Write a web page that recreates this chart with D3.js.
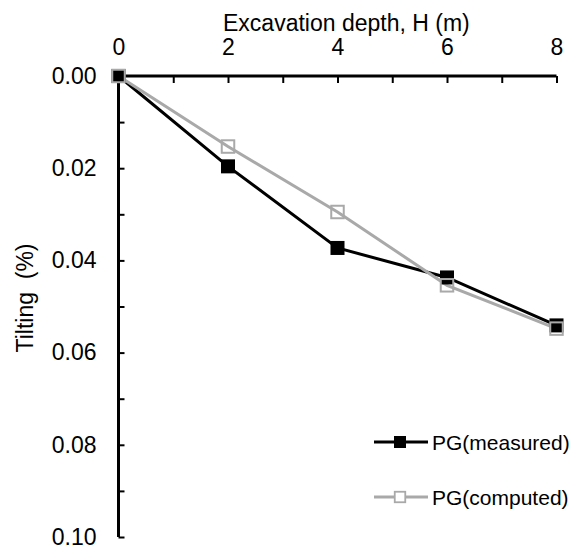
<!DOCTYPE html>
<html>
<head>
<meta charset="utf-8">
<script src="https://cdn.jsdelivr.net/npm/d3@7"></script>
<style>
  body { margin: 0; background: #fff; }
  text { font-family: "Liberation Sans", Arial, sans-serif; fill: #000; }
</style>
</head>
<body>
<div id="chart"></div>
<script>
// depth values (m) and tilting (%)
const depth = [0, 2, 4, 6, 8]
const measured = [0, 0.0196, 0.0373, 0.0437, 0.0541]
const computed = [0, 0.0153, 0.0295, 0.0454, 0.0548]
const xTicks = [0, 2, 4, 6, 8]
const yTicks = [0, 0.02, 0.04, 0.06, 0.08, 0.10]
const seriesNames = ['PG(measured)', 'PG(computed)']

const W = 581
const H = 548
const M = { left: 118.5, right: 24.5, top: 76, bottom: 11 }
const GREY = '#a9a9a9'

const svg = d3.select('#chart').append('svg')
  .attr('width', W)
  .attr('height', H)

const x = d3.scaleLinear().domain([0, 8]).range([M.left, W - M.right])
const y = d3.scaleLinear().domain([0, 0.10]).range([M.top, H - M.bottom])

// --- AXES ---
// x axis sits on top, ticks point into the plot
const xAxis = svg.append('g')
  .attr('transform', `translate(0,${M.top})`)
  .call(d3.axisTop(x).tickValues(d3.range(0, 9, 1)).tickSize(-7).tickFormat(d => xTicks.includes(d) ? d : ''))
xAxis.select('.domain').attr('stroke-width', 3).attr('d', `M${x(0)},0H${x(8)}`)
xAxis.selectAll('.tick line').attr('stroke-width', 2)
xAxis.selectAll('.tick text').attr('y', -21).attr('dy', 0).style('font-size', '23px')

// y axis grows downward
const yAxis = svg.append('g')
  .attr('transform', `translate(${M.left},0)`)
  .call(d3.axisLeft(y).tickValues(d3.range(0, 0.1001, 0.01)).tickSize(-6)
    .tickFormat(d => yTicks.some(t => Math.abs(t - d) < 1e-9) ? d3.format('.2f')(d) : ''))
yAxis.select('.domain').attr('stroke-width', 3).attr('d', `M0,${y(0)}V${y(0.10)}`)
yAxis.selectAll('.tick line').attr('stroke-width', 2)
yAxis.selectAll('.tick text').attr('x', -22).style('font-size', '23px')

svg.append('text')
  .attr('x', 223).attr('y', 31)
  .style('font-size', '23px')
  .text('Excavation depth, H (m)')

svg.append('text')
  .attr('transform', 'translate(33,298) rotate(-90)')
  .attr('text-anchor', 'middle')
  .style('font-size', '23px')
  .style('white-space', 'pre')
  .text('Tilting  (%)')

// --- SERIES ---
const line = d3.line().x(d => x(d[0])).y(d => y(d[1]))

const series = [
  { name: seriesNames[0], values: depth.map((d, i) => [d, measured[i]]), color: '#000', filled: true, size: 14 },
  { name: seriesNames[1], values: depth.map((d, i) => [d, computed[i]]), color: GREY, filled: false, size: 12.5 }
]

series.forEach(s => {
  svg.append('path')
    .attr('d', line(s.values))
    .attr('fill', 'none')
    .attr('stroke', s.color)
    .attr('stroke-width', 3)
})

series.forEach(s => {
  svg.selectAll(null)
    .data(s.values)
    .enter().append('rect')
    .attr('x', d => x(d[0]) - s.size / 2)
    .attr('y', d => y(d[1]) - s.size / 2)
    .attr('width', s.size)
    .attr('height', s.size)
    .attr('fill', s.filled ? s.color : 'none')
    .attr('stroke', s.color)
    .attr('stroke-width', s.filled ? 0 : 2)
})

// --- LEGEND ---
const legend = svg.append('g').attr('transform', 'translate(374,442)')
series.forEach((s, i) => {
  const g = legend.append('g').attr('transform', `translate(0,${i * 55})`)
  g.append('line').attr('x1', 0).attr('x2', 54).attr('y1', 0).attr('y2', 0)
    .attr('stroke', s.color).attr('stroke-width', 3)
  const sz = s.filled ? 12 : 10.5
  g.append('rect')
    .attr('x', 26 - sz / 2).attr('y', -sz / 2)
    .attr('width', sz).attr('height', sz)
    .attr('fill', s.filled ? s.color : '#fff')
    .attr('stroke', s.color)
    .attr('stroke-width', s.filled ? 0 : 1.8)
  g.append('text').attr('x', 58).attr('y', 7.5)
    .style('font-size', '21px')
    .text(s.name)
})
</script>
</body>
</html>
